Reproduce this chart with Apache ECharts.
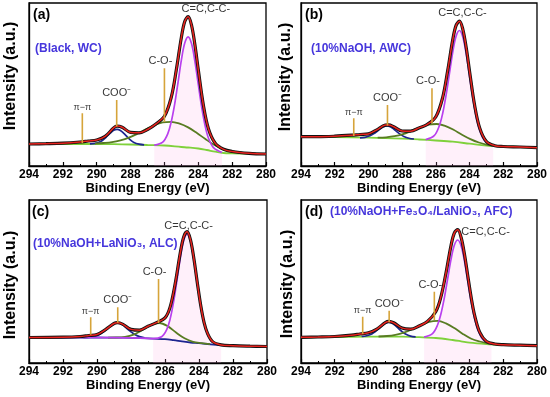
<!DOCTYPE html>
<html><head><meta charset="utf-8">
<script src="https://cdn.jsdelivr.net/npm/echarts@6/dist/echarts.min.js"></script>
<style>html,body{margin:0;padding:0;background:#fff}#c{width:550px;height:397px}</style>
</head><body><div id="c"></div>
<script>
// ---------- DATA (binding energy eV, intensity a.u.) ----------
// Panel (a) Black, WC
const a_fit = [[294,22.0],[293,22.3],[292,22.8],[291,24.0],[290.5,25.0],[290,26.0],[289.5,29.6],[289,38.1],[288.8,39.9],[288.5,38.8],[288,33.6],[287.5,33.2],[287,36.5],[286.5,42.1],[286,49.8],[285.6,68.5],[285.3,95.9],[285,128.6],[284.8,144.5],[284.6,149.3],[284.4,140.8],[284.2,121.2],[284,96.2],[283.7,61.0],[283.4,37.3],[283,22.8],[282.5,16.7],[282,14.5],[281,12.7],[280,12.0]];
const a_base = [[294,22],[292,22],[290,22],[289,21.8],[288,21.5],[287,21],[286,20.5],[285,19],[284.6,18.5],[284,17.5],[283.5,16],[283,14.3],[282.5,13],[282,12.7],[281,12.3],[280,12]];
const a_cc = [[286.6,20.8],[286.1,23.9],[285.8,32.4],[285.6,44.0],[285.4,61.3],[285.2,83.2],[285,105.8],[284.8,122.9],[284.6,129.2],[284.4,122.4],[284.2,104.6],[284,81.5],[283.8,58.8],[283.6,40.5],[283.4,28.0],[283.1,18.4],[282.6,13.5]];
const a_co = [[290.1,22.4],[289.6,23.0],[289.1,23.9],[288.6,25.7],[288.1,28.4],[287.6,32.2],[287.1,36.6],[286.6,40.8],[286.1,43.6],[285.6,44.2],[285.1,42.3],[284.6,38.6],[284.1,33.2],[283.6,27.2],[283.1,21.5],[282.6,17.3],[282.1,14.8],[281.6,13.5],[281.1,12.7],[280.6,12.3]];
const a_coo = [[290.4,22.1],[290.1,22.6],[289.8,24.2],[289.6,26.4],[289.4,29.5],[289.2,32.8],[289,35.7],[288.8,36.7],[288.6,35.6],[288.4,32.7],[288.2,29.2],[288,25.9],[287.8,23.5],[287.5,21.8],[287.2,21.1]];
const a_marks = [['π−π',290.85,22.7,52.7],['COO\u207B',288.82,39.5,66],['C-O-',286.0,44,97.7]];
const a_peak = ['C=C,C-C-',283.55,156.7];

// Panel (b) 10%NaOH, AWC
const b_fit = [[294,29.3],[293,29.3],[292,29.8],[291,30.8],[290.5,31.5],[290,32.1],[289.5,36.2],[289,40.9],[288.8,41.1],[288.5,39.2],[288,35.0],[287.5,34.8],[287,38.1],[286.5,41.7],[286,49.2],[285.6,68.2],[285.3,95.1],[285,126.1],[284.8,140.6],[284.6,144.8],[284.4,136.7],[284.2,118.4],[284,94.6],[283.7,60.7],[283.4,38.0],[283,24.4],[282.5,20.3],[282,19.5],[281,19.0],[280,18.3]];
const b_base = [[294,29.3],[292,28.8],[290,28.3],[288,27.3],[287,26.5],[286,25.5],[285,24.3],[284,22.3],[283,20.3],[282,19.5],[281,19],[280,18.3]];
const b_cc = [[286.6,26.4],[286.1,30.3],[285.8,40.0],[285.6,52.3],[285.4,70.2],[285.2,91.8],[285,113.7],[284.8,129.7],[284.6,135.5],[284.4,128.9],[284.2,112.1],[284,89.6],[283.8,67.3],[283.6,48.8],[283.4,35.8],[283.1,25.2],[282.6,20.2]];
const b_co = [[289.45,28.3],[288.95,28.7],[288.45,29.8],[287.95,31.9],[287.45,35.1],[286.95,38.5],[286.45,41.3],[285.95,42.0],[285.45,40.2],[284.95,36.3],[284.45,31.3],[283.95,26.9],[283.45,23.5],[282.95,21.2],[282.45,20.1],[281.95,19.5]];
const b_coo = [[290.5,28.1],[290.2,28.7],[289.9,30.2],[289.7,32.1],[289.5,34.5],[289.3,37.2],[289.1,39.3],[288.9,40.0],[288.7,39.2],[288.5,37.0],[288.3,34.2],[288.1,31.6],[287.9,29.6],[287.6,27.8],[287.3,27.0]];
const b_marks = [['π−π',290.87,30,47.7],['COO\u207B',288.87,40.5,61],['C-O-',286.23,42.5,77.7]];
const b_peak = ['C=C,C-C-',284.42,152.7];

// Panel (c) 10%NaOH+LaNiO3, ALC
const c_fit = [[294,25.5],[292,25.8],[291,26.5],[290.5,27.5],[290,28.5],[289.5,33.4],[289,39.5],[288.8,40.3],[288.5,38.9],[288,33.6],[287.5,32.8],[287,36.7],[286.5,40.4],[286,45.1],[285.7,55.9],[285.4,79.5],[285.1,110.3],[284.9,126.1],[284.7,131.3],[284.5,123.1],[284.3,104.2],[284.1,80.3],[283.9,57.7],[283.7,40.4],[283.5,29.6],[283.2,21.4],[282.7,18.1],[282,17.3],[281,16.8],[280,16.5]];
const c_base = [[294,25.5],[292,25.5],[290,25.5],[289,25.4],[288,25.2],[287,24.7],[286,23.8],[285.5,22.8],[285,21.6],[284.5,20.5],[284,19.8],[283.5,19],[283,18.2],[282,17.3],[281,16.8],[280,16.5]];
const c_cc = [[294,25.5],[292,25.5],[290,25.5],[288,25.2],[287.2,24.8],[286.7,24.45],[286.2,26.3],[285.9,33.4],[285.7,43.9],[285.5,60.6],[285.3,82.2],[285.1,104.9],[284.9,122.4],[284.7,128.9],[284.5,121.6],[284.3,103.3],[284.1,79.8],[283.9,57.4],[283.7,40.3],[283.5,29.2],[283.2,21.2],[282.7,18.05],[282,17.3],[281,16.8],[280,16.5]];
const c_co = [[289.35,25.4],[288.85,25.5],[288.35,26.2],[287.85,28.4],[287.35,32.8],[286.85,37.9],[286.35,40.0],[285.85,36.9],[285.35,30.4],[284.85,24.7],[284.35,21.2],[283.85,19.8],[283.35,18.8]];
const c_coo = [[290.8,25.5],[290.4,25.9],[290.1,26.85],[289.8,29.1],[289.6,31.4],[289.4,34.2],[289.2,37.1],[289,39.3],[288.8,40.0],[288.6,39.2],[288.4,37.0],[288.2,34.0],[288,31.2],[287.8,28.7],[287.5,26.35],[287.2,25.2]];
const c_marks = [['π−π',290.37,28.3,45.7],['COO\u207B',288.78,40.3,55.7],['C-O-',286.38,40,84]];
const c_peak = ['C=C,C-C-',284.61,137];

// Panel (d) 10%NaOH+Fe3O4/LaNiO3, AFC
const d_fit = [[294,25.7],[293,26.0],[292,26.5],[291,27.8],[290.5,29.0],[290,30.2],[289.5,33.9],[289,40.4],[288.8,41.6],[288.5,40.2],[288,34.9],[287.5,33.8],[287,37.0],[286.5,41.6],[286,51.5],[285.7,66.1],[285.4,90.0],[285.1,117.4],[284.9,130.1],[284.7,133.3],[284.5,125.5],[284.3,108.5],[284.1,86.5],[283.9,65.1],[283.7,47.6],[283.4,30.8],[283,21.6],[282.5,19.0],[282,18.3],[281,17.8],[280,17.3]];
const d_base = [[294,25.7],[292,26.0],[290,26.3],[288,26.3],[287,25.8],[286,25.0],[285,23.0],[284.5,21.7],[284,20.3],[283,19.0],[282,18.3],[281,17.8],[280,17.3]];
const d_cc = [[286.7,25.95],[286.2,29.4],[285.9,38.0],[285.7,49.0],[285.5,64.8],[285.3,84.1],[285.1,103.6],[284.9,118.0],[284.7,123.0],[284.5,116.9],[284.3,101.6],[284.1,81.1],[283.9,60.8],[283.7,44.5],[283.5,32.9],[283.2,23.4],[282.7,19.05]];
const d_co = [[289.4,26.5],[288.9,27.0],[288.4,28.2],[287.9,30.4],[287.4,33.7],[286.9,37.8],[286.4,41.1],[285.9,42.1],[285.4,39.6],[284.9,34.9],[284.4,29.1],[283.9,24.3],[283.4,21.5],[282.9,19.6],[282.4,18.7]];
const d_coo = [[290.4,26.5],[290.1,27.2],[289.8,29.05],[289.6,31.3],[289.4,34.2],[289.2,37.4],[289,39.8],[288.8,40.7],[288.6,39.8],[288.4,37.4],[288.2,34.2],[288,31.3],[287.8,28.95],[287.5,26.9],[287.2,26.1]];
const d_marks = [['π−π',290.34,29,46.3],['COO\u207B',288.77,40.7,52.3],['C-O-',286.09,43,71.3]];
const d_peak = ['C=C,C-C-',283.05,130.7];

const panelLetters = ['(a)','(b)','(c)','(d)'];
const panelTitles = ['(Black, WC)','(10%NaOH, AWC)','(10%NaOH+LaNiO\u2083, ALC)','(10%NaOH+Fe\u2083O\u2084/LaNiO\u2083, AFC)'];
const xName = 'Binding Energy (eV)';
const yName = 'Intensity (a.u.)';

// ---------- LAYOUT / STYLE ----------
const FONT = "'Liberation Sans', Arial, Helvetica, sans-serif";
const grids = [
  {left:29, top:3, width:237, height:163},
  {left:301, top:3, width:238, height:163},
  {left:29, top:200, width:238, height:163},
  {left:301, top:200, width:238, height:163}
];
const panels = [
  {fit:a_fit, base:a_base, cc:a_cc, co:a_co, coo:a_coo, marks:a_marks, peak:a_peak, baseColor:'#7fd13b'},
  {fit:b_fit, base:b_base, cc:b_cc, co:b_co, coo:b_coo, marks:b_marks, peak:b_peak, baseColor:'#7fd13b'},
  {fit:c_fit, base:c_base, cc:c_cc, co:c_co, coo:c_coo, marks:c_marks, peak:c_peak, baseColor:'#1d2590'},
  {fit:d_fit, base:d_base, cc:d_cc, co:d_co, coo:d_coo, marks:d_marks, peak:d_peak, baseColor:'#7fd13b'}
];
const C_CC = '#b940ee', C_CO = '#587c22', C_COO = '#1d2590', C_MARK = '#d6a43a';

const option = {
  animation:false,
  backgroundColor:'#fff',
  grid: grids.map(g => Object.assign({show:true, borderColor:'#000', borderWidth:1.3, backgroundColor:'transparent'}, g)),
  xAxis: grids.map((g,i) => ({
    gridIndex:i, type:'value', min:280, max:294, interval:2, inverse:true,
    axisLine:{show:true, onZero:false, lineStyle:{color:'#000', width:1.3}},
    axisTick:{show:true, inside:true, length:4, lineStyle:{color:'#000', width:1.2}},
    minorTick:{show:true, splitNumber:2, length:2, lineStyle:{color:'#000', width:1}},
    splitLine:{show:false},
    axisLabel:{margin:3, fontWeight:'bold', fontSize:12, color:'#000', fontFamily:FONT},
    name:xName, nameLocation:'middle', nameGap:15,
    nameTextStyle:{fontWeight:'bold', fontSize:13, color:'#000', fontFamily:FONT}
  })),
  yAxis: grids.map((g,i) => ({
    gridIndex:i, type:'value', min:0, max:163,
    axisLine:{show:true, onZero:false, lineStyle:{color:'#000', width:1.3}},
    axisTick:{show:false}, axisLabel:{show:false}, splitLine:{show:false}
  })),
  series: [],
  graphic: []
};

function line(i, data, color, width, z, extra){
  return Object.assign({type:'line', xAxisIndex:i, yAxisIndex:i, data:data, showSymbol:false, symbol:'none',
    smooth:0.35, lineStyle:{color:color, width:width}, z:z, silent:true}, extra||{});
}

panels.forEach((p,i) => {
  const s = option.series;
  // pale pink shading under main C=C peak
  s.push(line(i, p.cc.filter(q => q[0] <= 286.8 && q[0] >= 282.5), 'rgba(0,0,0,0)', 0, 1,
    {areaStyle:{color:'rgba(255,165,228,0.24)', origin:'start'}}));
  s.push(line(i, p.base, p.baseColor, 1.8, 2));
  s.push(line(i, p.coo, C_COO, 1.7, 3));
  s.push(line(i, p.co, C_CO, 1.8, 3));
  s.push(line(i, p.cc, C_CC, 1.7, 4));
  s.push(line(i, p.fit, '#111', 3.2, 5));
  s.push(line(i, p.fit, '#e8231e', 1.5, 6));
  p.marks.forEach(m => {
    s.push(line(i, [[m[1], m[2]], [m[1], m[3]]], C_MARK, 1.6, 7, {smooth:false}));
  });
  s.push({type:'scatter', xAxisIndex:i, yAxisIndex:i, z:8, silent:true, symbolSize:1,
    itemStyle:{color:'rgba(0,0,0,0)'},
    data:p.marks.map(m => ({value:[m[1], m[3]], name:m[0],
      label: m[0] === 'C-O-' ? {offset:[-4,0]} : {}})),
    label:{show:true, position:'top', distance:1,
      formatter:o => o.name === 'π−π' ? '{s|π−π}' : o.name,
      rich:{s:{fontSize:9, fontFamily:FONT, color:'#000'}},
      color:'#000', fontFamily:FONT, fontSize:11}
  });
  s.push({type:'scatter', xAxisIndex:i, yAxisIndex:i, z:8, silent:true, symbolSize:1,
    itemStyle:{color:'rgba(0,0,0,0)'},
    data:[{value:[p.peak[1], p.peak[2]], name:p.peak[0]}],
    label:{show:true, position:'inside', formatter:o => o.name, color:'#000', fontFamily:FONT, fontSize:11}
  });
});

const letterPos = [[33,15],[305,15],[32,212],[305,212]];
const titlePos = [[35,49],[311,49],[33,244],[330,212]];
const yNamePos = [[11,76],[286,77],[11,285],[287.5,284]];
panels.forEach((p,i) => {
  option.graphic.push({type:'text', x:letterPos[i][0], y:letterPos[i][1], z:100,
    style:{text:panelLetters[i], fill:'#000', font:'bold 14px ' + FONT, align:'left', verticalAlign:'middle'}});
  option.graphic.push({type:'text', x:titlePos[i][0], y:titlePos[i][1], z:100,
    style:{text:panelTitles[i], fill:'#4636dc', font:'bold 12px ' + FONT, align:'left', verticalAlign:'middle'}});
  option.graphic.push({type:'text', x:yNamePos[i][0], y:yNamePos[i][1], rotation:Math.PI/2, z:100,
    style:{text:yName, fill:'#000', font:'bold 16px ' + FONT, align:'center', verticalAlign:'middle'}});
});

const chart = echarts.init(document.getElementById('c'), null, {renderer:'canvas'});
chart.setOption(option);
</script></body></html>
